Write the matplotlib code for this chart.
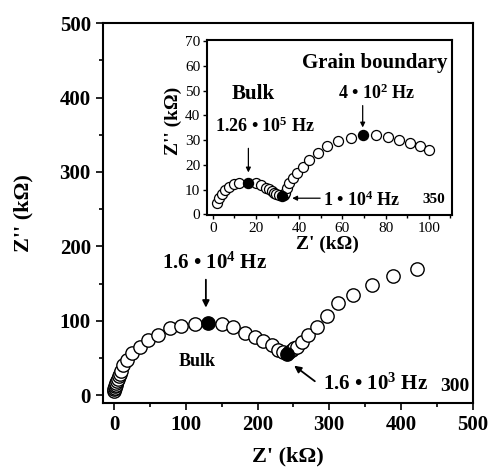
import numpy as np
import matplotlib
matplotlib.use("Agg")
import matplotlib.pyplot as plt
from matplotlib.ticker import MultipleLocator

plt.rcParams['font.family'] = ['Liberation Serif', 'DejaVu Serif']
plt.rcParams['font.weight'] = 'bold'
plt.rcParams['mathtext.fontset'] = 'custom'
plt.rcParams['mathtext.rm'] = 'Liberation Serif:bold'
plt.rcParams['mathtext.bf'] = 'Liberation Serif:bold'
plt.rcParams['mathtext.default'] = 'bf'

# main plot (300 C)
main_x = [0, 0.5, 1, 1.5, 2.2, 3, 4, 5.2, 6.5, 8.1, 10, 12.7, 17.4, 24.4, 36, 47.6,
          61.5, 77.8, 94, 112.7, 150, 166, 182.4, 196.4, 208, 219.7, 229, 235,
          244, 247.6, 251, 254.5, 261.5, 270.7, 282.4, 296.4, 312.6, 333.5,
          359, 389.3, 422]
main_y = [6, 8, 10, 12, 14, 16.5, 19, 22, 25.4, 29, 33, 41, 47.7, 56.7, 65.5, 74.5,
          81, 90, 93, 96, 96, 91.4, 84, 78.7, 73.5, 67.8, 61, 58,
          58, 61, 63, 65.5, 72, 81, 92, 106.5, 123.5, 134.6,
          148, 160, 170]
main_fill_x = [131, 240.6]
main_fill_y = [97, 55.7]

# inset (350 C)
ins_x = [1.9, 3.1, 4.2, 5.7, 7.7, 9.9, 12.3, 20, 22.2, 24.7, 26, 27.3, 28.5, 29.3,
         30.5, 32.8, 33.5, 34.3, 35.5, 37, 39.2, 42, 44.7, 48.6, 53, 58.1, 63.9,
         75.5, 81, 86.4, 91.3, 96, 100.3]
ins_y = [4.5, 6.5, 8.3, 9.9, 11.2, 12.2, 12.8, 12.6, 11.9, 10.8, 10.2, 9.6, 8.8, 8.3,
         7.7, 7.6, 8.8, 10.6, 12.6, 14.6, 16.7, 19.3, 21.8, 24.8, 27.5, 29.5, 30.9,
         32, 31.3, 30.2, 28.9, 27.5, 25.9]
ins_fill_x = [16.5, 31.9, 69.4]
ins_fill_y = [12.8, 7.2, 32]

fig = plt.figure(figsize=(4.96, 4.71), dpi=100)
ax = fig.add_axes([0.2083, 0.145, 0.7447, 0.806])

ax.plot(main_x, main_y, 'o', ms=9.6, mfc='white', mec='black', mew=1.0, ls='none')
ax.plot(main_fill_x, main_fill_y, 'o', ms=9.6, mfc='black', mec='black', ls='none')

ax.set_xlim(-15, 500)
ax.set_ylim(-10, 500)
ax.xaxis.set_major_locator(MultipleLocator(100))
ax.xaxis.set_minor_locator(MultipleLocator(50))
ax.yaxis.set_major_locator(MultipleLocator(100))
ax.yaxis.set_minor_locator(MultipleLocator(50))
ax.tick_params(which='both', direction='out', top=False, right=False, width=1.2,
               labelsize=15)
ax.tick_params(which='major', length=5, pad=4)
ax.tick_params(which='minor', length=3)
for s in ax.spines.values():
    s.set_linewidth(1.5)
ax.set_xlabel("Z' (k\u03a9)", fontsize=16, fontweight='bold')
ax.set_ylabel("Z'' (k\u03a9)", fontsize=16, fontweight='bold')
ax.xaxis.set_label_coords(0.5, -0.115)
ax.yaxis.set_label_coords(-0.19, 0.5)

ax.text(140.6, 177, r"1.6 • $10^{4}$ Hz", fontsize=15, ha='center', va='center')
ax.annotate('', xy=(128, 114), xytext=(128, 159),
            arrowprops=dict(arrowstyle='-|>', color='black', lw=1.3, mutation_scale=10))
ax.text(291, 14.3, r"1.6 • $10^{3}$ Hz", fontsize=15, ha='left', va='center')
ax.annotate('', xy=(248, 42), xytext=(283, 16.6),
            arrowprops=dict(arrowstyle='-|>', color='black', lw=1.3, mutation_scale=10))
ax.text(115.5, 45.5, "Bulk", fontsize=13, ha='center', va='center')
ax.text(475, 12, "300", fontsize=14, ha='center', va='center')

# inset
ins = fig.add_axes([0.418, 0.5435, 0.4927, 0.3715])
ins.plot(ins_x, ins_y, 'o', ms=7.2, mfc='white', mec='black', mew=0.9, ls='none')
ins.plot(ins_fill_x, ins_fill_y, 'o', ms=7.2, mfc='black', mec='black', ls='none')
ins.set_xlim(-2.5, 110.6)
ins.set_ylim(-0.3, 70.5)
ins.xaxis.set_major_locator(MultipleLocator(20))
ins.xaxis.set_minor_locator(MultipleLocator(10))
ins.yaxis.set_major_locator(MultipleLocator(10))
ins.tick_params(which='both', direction='out', top=False, right=False, width=1.0,
                labelsize=11, pad=2)
ins.tick_params(which='major', length=3)
ins.tick_params(which='minor', length=2)
for lab in ins.get_xticklabels() + ins.get_yticklabels():
    lab.set_fontweight('normal')
for s in ins.spines.values():
    s.set_linewidth(1.5)
ins.set_xlabel("Z' (k\u03a9)", fontsize=14, fontweight='bold')
ins.set_ylabel("Z'' (k\u03a9)", fontsize=14, fontweight='bold')
ins.xaxis.set_label_coords(0.49, -0.12)
ins.yaxis.set_label_coords(-0.104, 0.537)

ins.text(108.5, 61.4, "Grain boundary", fontsize=15, ha='right', va='center')
ins.text(18.8, 48.5, "Bulk", fontsize=15, ha='center', va='center')
ins.text(75.8, 48.9, r"4 • $10^{2}$ Hz", fontsize=13, ha='center', va='center')
ins.annotate('', xy=(69.4, 34.0), xytext=(69.4, 45.1),
             arrowprops=dict(arrowstyle='-|>', color='black', lw=0.9, mutation_scale=7))
ins.text(24.2, 35.6, r"1.26 • $10^{5}$ Hz", fontsize=13, ha='center', va='center')
ins.annotate('', xy=(16.5, 15.8), xytext=(16.5, 27.8),
             arrowprops=dict(arrowstyle='-|>', color='black', lw=0.9, mutation_scale=7))
ins.text(51, 5.8, r"1 • $10^{4}$ Hz", fontsize=13, ha='left', va='center')
ins.annotate('', xy=(35.5, 6.5), xytext=(51, 6.5),
             arrowprops=dict(arrowstyle='-|>', color='black', lw=0.9, mutation_scale=7))
ins.text(102.5, 5.8, "350", fontsize=11, ha='center', va='center')

fig.savefig("out.png", dpi=100)
